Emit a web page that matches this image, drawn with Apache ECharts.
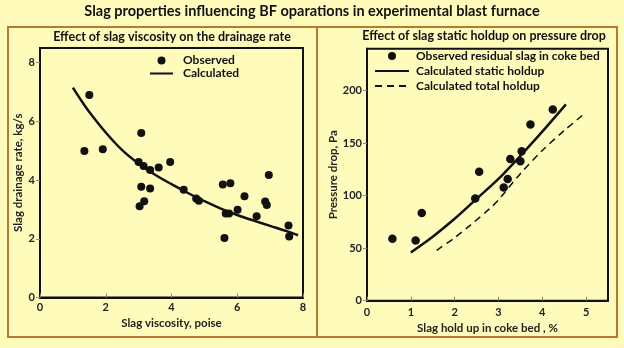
<!DOCTYPE html>
<html>
<head>
<meta charset="utf-8">
<script src="https://cdn.jsdelivr.net/npm/echarts@6/dist/echarts.min.js"></script>
<style>
html,body{margin:0;padding:0;background:#fffbbb;}
#c{width:624px;height:348px;}
</style>
</head>
<body>
<div id="c"></div>
<script>
// ---- Left chart: slag viscosity vs drainage rate ----
const viscObsX = [1.50,1.35,1.91,3.08,3.00,3.15,3.35,3.61,3.96,3.08,3.35,3.17,3.03,4.37,4.75,4.83,5.56,5.79,5.65,5.75,5.61,6.01,6.22,6.59,6.85,6.90,6.96,7.56,7.58];
const viscObsY = [6.90,4.99,5.05,5.60,4.62,4.48,4.34,4.43,4.62,3.77,3.71,3.28,3.11,3.67,3.37,3.30,3.85,3.89,2.86,2.86,2.03,2.99,3.45,2.77,3.27,3.15,4.17,2.45,2.08];
const viscCalcX = [1.0,1.25,1.5,2.0,2.5,3.0,3.5,4.0,4.5,5.0,5.5,6.0,6.5,7.0,7.5,7.85];
const viscCalcY = [7.15,6.72,6.32,5.62,5.02,4.56,4.18,3.86,3.56,3.28,3.03,2.81,2.62,2.44,2.26,2.12];
const leftXTicks = [0,2,4,6,8];
const leftYTicks = [0,2,4,6,8];

// ---- Right chart: slag holdup vs pressure drop ----
const holdObsX = [0.58,1.11,1.25,2.47,2.56,3.12,3.21,3.27,3.50,3.53,3.73,4.24];
const holdObsY = [58.9,57.3,83.5,97.3,122.8,107.9,115.8,135.0,132.8,142.4,167.7,182.0];
const staticX = [1.0,1.5,2.0,2.5,3.0,3.5,4.0,4.54];
const staticY = [46,61,78,97,116,138,161,187];
const totalX = [1.59,2.0,2.36,2.81,3.0,3.5,4.0,4.5,4.96];
const totalY = [48,60,72,88,96,121,143,162,178];
const rightXTicks = [0,1,2,3,4,5];
const rightYTicks = [0,50,100,150,200];

const zip = (xs, ys) => xs.map((x, i) => [x, ys[i]]);
const FONT = 'Lato';
const INK = '#111';

const yAxisBase = (ticks, extra) => Object.assign({
  type: 'value', min: 0,
  axisLine: {show: true, onZero: false, lineStyle: {color: INK, width: 2}},
  axisTick: {show: true, inside: false, length: 4, lineStyle: {color: '#888'}, customValues: ticks},
  axisLabel: {fontFamily: FONT, fontWeight: 'bold', fontSize: 11, color: '#222', margin: 5, customValues: ticks},
  splitLine: {show: false},
  nameLocation: 'middle', nameRotate: 90,
  nameTextStyle: {fontFamily: FONT, fontWeight: 'bold', fontSize: 11.5, color: '#222'}
}, extra);
const xAxisBase = (ticks, extra) => Object.assign({
  type: 'value', min: 0,
  axisLine: {show: true, onZero: false, lineStyle: {color: INK, width: 2}},
  axisTick: {show: true, inside: true, length: 4, lineStyle: {color: '#888'}, customValues: ticks},
  axisLabel: {fontFamily: FONT, fontWeight: 'bold', fontSize: 11, color: '#222', margin: 4, customValues: ticks},
  splitLine: {show: false},
  nameLocation: 'middle',
  nameTextStyle: {fontFamily: FONT, fontWeight: 'bold', fontSize: 11.5, color: '#222'}
}, extra);

const hideSym = name => ({name: name, itemStyle: {opacity: 0}});

const chart = echarts.init(document.getElementById('c'), null, {renderer: 'canvas'});
const rightX = xAxisBase(rightXTicks, {gridIndex: 1, max: 5.5, interval: 1, name: 'Slag hold up in coke bed , %', nameGap: 21});
rightX.axisLabel = Object.assign({}, rightX.axisLabel, {margin: 6});
chart.setOption({
  backgroundColor: '#fffbbb',
  animation: false,
  textStyle: {fontFamily: FONT},
  title: [
    {text: 'Slag properties influencing BF oparations in experimental blast furnace', left: 312, top: 4, textAlign: 'center', padding: 0,
     textStyle: {fontFamily: FONT, fontWeight: 'bold', fontSize: 14.5, color: '#111'}},
    {text: 'Effect of slag viscosity on the drainage rate', left: 172, top: 30, textAlign: 'center', padding: 0,
     textStyle: {fontFamily: FONT, fontWeight: 'bold', fontSize: 12.5, color: '#111'}},
    {text: 'Effect of slag static holdup on pressure drop', left: 484, top: 29, textAlign: 'center', padding: 0,
     textStyle: {fontFamily: FONT, fontWeight: 'bold', fontSize: 12.5, color: '#111'}}
  ],
  graphic: [
    {type: 'rect', shape: {x: 8, y: 27, width: 609, height: 310}, style: {fill: null, stroke: '#b8792e', lineWidth: 2}, silent: true, z: -1},
    {type: 'line', shape: {x1: 317, y1: 27, x2: 317, y2: 337}, style: {stroke: '#b8792e', lineWidth: 2}, silent: true, z: -1}
  ],
  legend: [
    {data: ['Observed', hideSym('Calculated')], left: 149, top: 54, orient: 'vertical', padding: 0, itemGap: 0,
     itemWidth: 23, itemHeight: 8, selectedMode: false,
     textStyle: {fontFamily: FONT, fontWeight: 'bold', fontSize: 12, color: '#111', lineHeight: 13, padding: [0, 0, 0, 5]}},
    {data: ['Observed residual slag in coke bed', hideSym('Calculated static holdup'), hideSym('Calculated total holdup')], left: 374, top: 48.5, orient: 'vertical', padding: 0, itemGap: 0,
     itemWidth: 34, itemHeight: 8, selectedMode: false,
     textStyle: {fontFamily: FONT, fontWeight: 'bold', fontSize: 12, color: '#111', lineHeight: 15, padding: [0, 0, 0, 2]}}
  ],
  grid: [
    {left: 40, top: 48, width: 263, height: 249.5, show: true, borderColor: INK, borderWidth: 2, backgroundColor: 'transparent'},
    {left: 367, top: 48.7, width: 241, height: 252, show: true, borderColor: INK, borderWidth: 2, backgroundColor: 'transparent'}
  ],
  xAxis: [
    xAxisBase(leftXTicks, {gridIndex: 0, max: 8, interval: 2, name: 'Slag viscosity, poise', nameGap: 14}),
    rightX
  ],
  yAxis: [
    yAxisBase(leftYTicks, {gridIndex: 0, max: 8.5, interval: 2, name: 'Slag drainage rate, kg/s', nameGap: 14}),
    yAxisBase(rightYTicks, {gridIndex: 1, max: 240, interval: 50, name: 'Pressure drop, Pa', nameGap: 27})
  ],
  series: [
    {name: 'Observed', type: 'scatter', xAxisIndex: 0, yAxisIndex: 0, data: zip(viscObsX, viscObsY),
     symbol: 'circle', symbolSize: 8, itemStyle: {color: INK, opacity: 1}},
    {name: 'Calculated', type: 'line', xAxisIndex: 0, yAxisIndex: 0, data: zip(viscCalcX, viscCalcY),
     smooth: 0.3, showSymbol: false, symbol: 'none', lineStyle: {color: INK, width: 2.5}, itemStyle: {color: INK}},
    {name: 'Observed residual slag in coke bed', type: 'scatter', xAxisIndex: 1, yAxisIndex: 1, data: zip(holdObsX, holdObsY),
     symbol: 'circle', symbolSize: 8.5, itemStyle: {color: INK, opacity: 1}},
    {name: 'Calculated static holdup', type: 'line', xAxisIndex: 1, yAxisIndex: 1, data: zip(staticX, staticY),
     smooth: 0.3, showSymbol: false, symbol: 'none', lineStyle: {color: INK, width: 2.5}, itemStyle: {color: INK}},
    {name: 'Calculated total holdup', type: 'line', xAxisIndex: 1, yAxisIndex: 1, data: zip(totalX, totalY),
     smooth: 0.3, showSymbol: false, symbol: 'none', lineStyle: {color: INK, width: 1.5, type: [7, 5]}, itemStyle: {color: INK}}
  ]
});
</script>
</body>
</html>
